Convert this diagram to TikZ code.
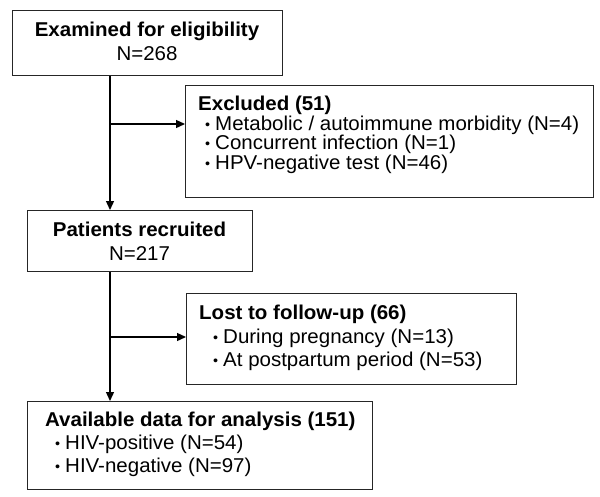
\documentclass[tikz,border=0pt]{standalone}
\usepackage{fontspec}
\setmainfont{Liberation Sans}[FakeStretch=1.025]
\usetikzlibrary{arrows.meta}
\newcommand\mybul{\makebox[10pt][l]{\fontsize{14}{14}\selectfont\raisebox{1pt}{•}}}
\begin{document}
\begin{tikzpicture}[x=1pt,y=-1pt,
  box/.style={draw=black!85, line width=1.3pt, inner sep=0pt, anchor=north west},
  txt/.style={inner sep=0pt, font=\fontsize{20}{22}\selectfont},
  ttl/.style={inner sep=0pt, font=\fontsize{20}{22}\selectfont\bfseries},
  conn/.style={line width=1.3pt, draw=black, -{Triangle[length=9pt,width=8pt]}}]
\useasboundingbox[fill=white] (0,0) rectangle (600,496);
% boxes
\node[box, minimum width=270pt, minimum height=65pt] (b1) at (12,10) {};
\node[box, minimum width=408pt, minimum height=112pt] (b2) at (185,85) {};
\node[box, minimum width=225pt, minimum height=61pt] (b3) at (27,210) {};
\node[box, minimum width=330pt, minimum height=91pt] (b4) at (186,293) {};
\node[box, minimum width=345pt, minimum height=88pt] (b5) at (27,401) {};
% texts
\node[ttl, anchor=base] (t1a) at (147,36) {Examined for eligibility};
\node[txt, anchor=base] (t1b) at (147,60) {N=268};
\node[ttl, anchor=base west] (t2a) at (198,110.5) {Excluded (51)};
\node[txt, anchor=base west] (t2b) at (205,130) {\mybul Metabolic / autoimmune morbidity (N=4)};
\node[txt, anchor=base west] (t2c) at (205,149.5) {\mybul Concurrent infection (N=1)};
\node[txt, anchor=base west] (t2d) at (205,169) {\mybul HPV-negative test (N=46)};
\node[ttl, anchor=base] (t3a) at (139.5,236) {Patients recruited};
\node[txt, anchor=base] (t3b) at (139.5,260) {N=217};
\node[ttl, anchor=base west] (t4a) at (199,319) {Lost to follow-up (66)};
\node[txt, anchor=base west] (t4b) at (213,343) {\mybul During pregnancy (N=13)};
\node[txt, anchor=base west] (t4c) at (213,366) {\mybul At postpartum period (N=53)};
\node[ttl, anchor=base west] (t5a) at (45,426) {Available data for analysis (151)};
\node[txt, anchor=base west] (t5b) at (55,449) {\mybul HIV-positive (N=54)};
\node[txt, anchor=base west] (t5c) at (55,472) {\mybul HIV-negative (N=97)};
% connectors
\coordinate (j1) at (110,124);
\coordinate (j2) at (110,337);
\draw[conn] (b1.south -| j1) -- (b3.north -| j1);
\draw[conn] (j1) -- (b2.west |- j1);
\draw[conn] (b3.south -| j2) -- (b5.north -| j2);
\draw[conn] (j2) -- (b4.west |- j2);
\end{tikzpicture}
\end{document}
